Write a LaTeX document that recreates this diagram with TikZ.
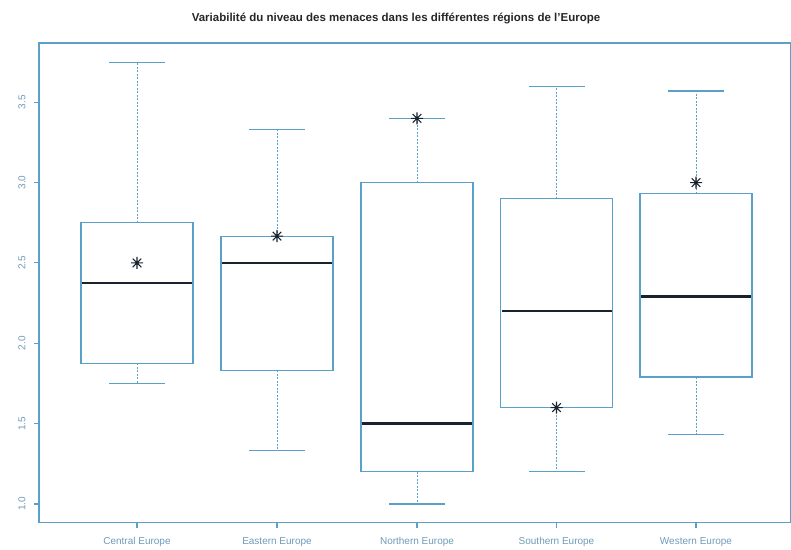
\documentclass[tikz,border=0pt]{standalone}
\usepackage{fontspec}
\setmainfont{Liberation Sans}
\usetikzlibrary{positioning}
\definecolor{axisblue}{RGB}{90,160,200}
\definecolor{labelblue}{RGB}{110,155,185}
\definecolor{mediandark}{RGB}{25,35,45}
\tikzset{
  boxline/.style={draw=axisblue,line width=1.1pt},
  whisker/.style={draw=axisblue,line width=1pt,dash pattern=on 2pt off 1.5pt},
  medianline/.style={draw=mediandark,line width=2.4pt},
  ticklabel/.style={text=labelblue,font=\fontsize{10}{12}\selectfont,inner sep=0pt},
  meanmark/.pic={\draw[mediandark,line width=1.1pt] (-6pt,0)--(6pt,0) (0,-6pt)--(0,6pt)
    (-4.3pt,-4.3pt)--(4.3pt,4.3pt) (-4.3pt,4.3pt)--(4.3pt,-4.3pt);}
}

\begin{document}
\begin{tikzpicture}[x=1pt,y=1pt]
\useasboundingbox (0,0) rectangle (791,549);
\node[font=\bfseries\fontsize{11.5}{13}\selectfont,text=black!85] (title) at (396,530)
  {Variabilité du niveau des menaces dans les différentes régions de l'Europe};
\draw[boxline] (39,26.3) rectangle (790.5,506);
\begin{scope}[y=160.7pt,yshift=-115.7pt]
\foreach \v [count=\i] in {1.0,1.5,2.0,2.5,3.0,3.5}{
  \draw[boxline] (39,\v) -- (34,\v);
  \node[ticklabel,rotate=90] (ylab\i) at (22,\v) {\v};
}
\foreach \name/\cx/\lo/\qa/\md/\qb/\hi/\mn [count=\i] in
  {Central Europe/137/1.75/1.875/2.375/2.75/3.75/2.5,
   Eastern Europe/277/1.333/1.833/2.5/2.667/3.333/2.667,
   Northern Europe/417/1.0/1.2/1.5/3.0/3.4/3.4,
   Southern Europe/556.5/1.2/1.6/2.2/2.9/3.6/1.6,
   Western Europe/696/1.43/1.79/2.29/2.93/3.57/3.0}{
  \draw[whisker] (\cx,\qb) -- (\cx,\hi);
  \draw[whisker] (\cx,\qa) -- (\cx,\lo);
  \draw[boxline] ({\cx-28},\hi) -- ({\cx+28},\hi);
  \draw[boxline] ({\cx-28},\lo) -- ({\cx+28},\lo);
  \draw[boxline] ({\cx-56},\qa) rectangle ({\cx+56},\qb);
  \draw[medianline] ({\cx-55},\md) -- ({\cx+55},\md);
  \pic at (\cx,\mn) {meanmark};
}
\end{scope}
\foreach \name/\cx [count=\i] in {Central Europe/137,Eastern Europe/277,
  Northern Europe/417,Southern Europe/556.5,Western Europe/696}{
  \draw[boxline] (\cx,26.3) -- (\cx,21);
  \node[ticklabel] (xlab\i) at (\cx,7) {\name};
}
\end{tikzpicture}
\end{document}
